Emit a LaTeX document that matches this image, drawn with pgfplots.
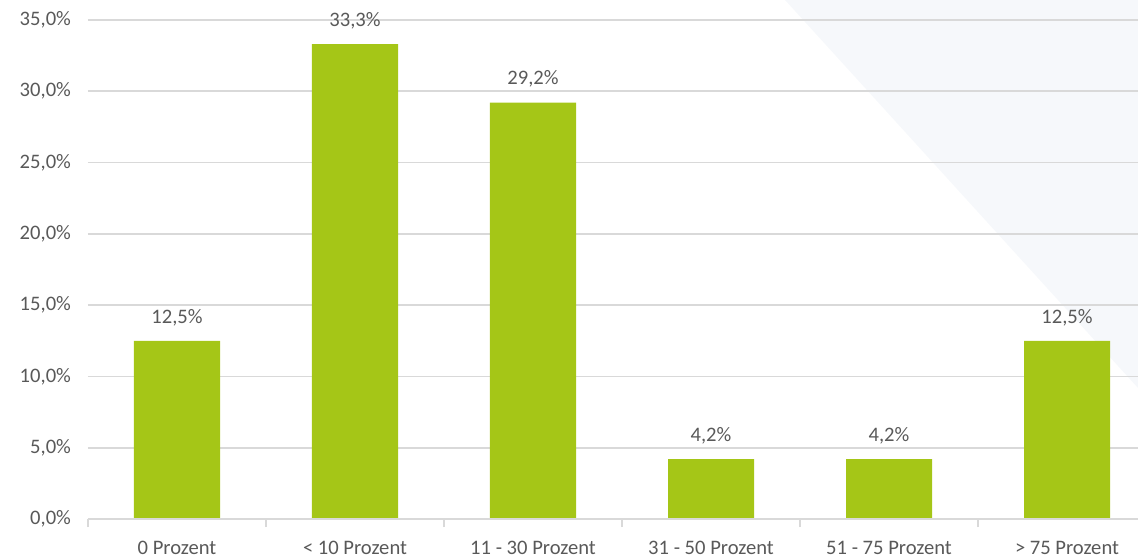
\documentclass[border=0pt]{standalone}
\usepackage{pgfplots}
\pgfplotsset{compat=1.18}
\usepackage{fontspec}
\setmainfont{Carlito}
\definecolor{bargreen}{HTML}{A5C617}
\definecolor{gridgray}{HTML}{D9D9D9}
\definecolor{txtgray}{HTML}{595959}
\definecolor{bgtri}{HTML}{F6F8FB}
\begin{document}
\begin{tikzpicture}
\useasboundingbox (-44pt,-19pt) rectangle (525pt,259.5pt);
\fill[bgtri] (348.5pt,259.5pt) -- (525pt,259.5pt) -- (525pt,65.5pt) -- cycle;
\begin{axis}[
  at={(0,0)}, anchor=south west,
  scale only axis,
  width=525pt, height=249.5pt,
  xmin=-0.5, xmax=5.399,
  ymin=0, ymax=35,
  ytick={0,5,...,35},
  ymajorgrids, grid style={gridgray, line width=0.8pt},
  axis line style={draw=none},
  every tick/.style={draw=none},
  xtick pos=bottom,
  xtick={0,1,2,3,4,5},
  xticklabels={0 Prozent,{< 10 Prozent},11 - 30 Prozent,31 - 50 Prozent,51 - 75 Prozent,{> 75 Prozent}},
  extra x ticks={-0.5,0.5,1.5,2.5,3.5,4.5},
  extra x tick labels={},
  extra x tick style={tick align=outside, tick pos=bottom, major tick length=4pt, grid=none,
     every tick/.style={draw=gridgray, line width=0.8pt}},
  yticklabel={\pgfmathprintnumber[fixed,fixed zerofill,precision=1,use comma]{\tick}\%},
  /pgf/number format/assume math mode=true,
  tick label style={font=\fontsize{10.3pt}{12pt}\selectfont, text=txtgray},
  yticklabel style={xshift=-5pt},
  xticklabel style={inner sep=0pt, yshift=-6.5pt},
  ybar, bar width=43pt,
  nodes near coords={\pgfmathprintnumber[fixed,fixed zerofill,precision=1,use comma]{\pgfplotspointmeta}\%},
  nodes near coords style={font=\fontsize{10.3pt}{12pt}\selectfont, text=txtgray, yshift=4pt},
  clip=false,
]
\addplot[fill=bargreen, draw=none] coordinates {(0,12.5) (1,33.3) (2,29.2) (3,4.2) (4,4.2) (5,12.5)};
\draw[gridgray, line width=0.8pt] (axis cs:-0.5,0) -- (axis cs:5.399,0);
\end{axis}
\end{tikzpicture}
\end{document}
